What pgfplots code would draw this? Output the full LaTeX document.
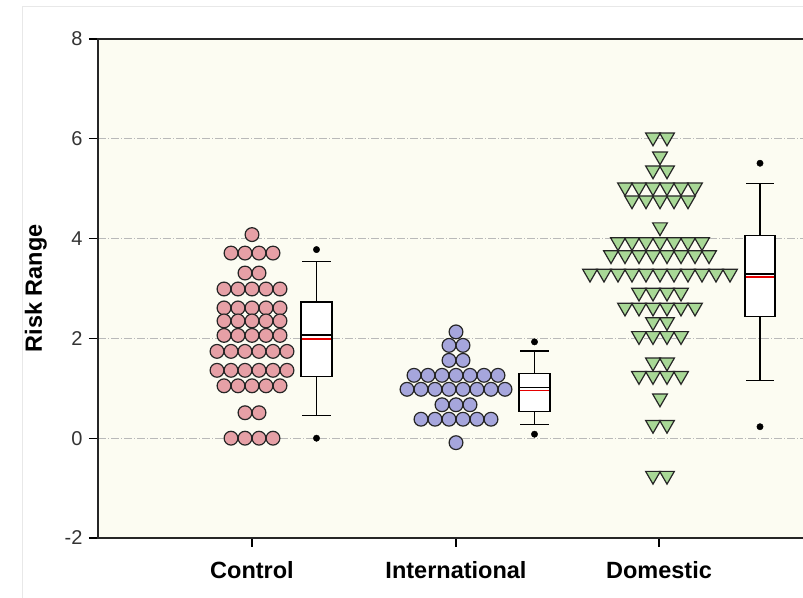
\documentclass[border=0pt]{standalone}
\usepackage{pgfplots}
\pgfplotsset{compat=1.18}
\usepackage{fontspec}
\setmainfont{Liberation Sans}
\definecolor{bgc}{RGB}{252,252,242}
\definecolor{ctrl}{RGB}{230,160,166}
\definecolor{intl}{RGB}{166,166,220}
\definecolor{dom}{RGB}{168,216,150}
\begin{document}
\begin{tikzpicture}
\begin{axis}[
  scale only axis, width=705pt, height=499pt,
  xmin=98, xmax=803, ymin=-2, ymax=8,
  axis line style={draw=none},
  axis background/.style={fill=bgc},
  xtick={252,456,659}, xticklabels={Control,International,Domestic},
  ytick={-2,0,2,4,6,8}, yticklabels={-2,0,2,4,6,8},
  xtick pos=left, ytick pos=left, tick align=outside,
  major tick length=9pt,
  tick style={black, line width=1.2pt},
  ymajorgrids, grid style={gray!55, line width=0.6pt, dash pattern=on 8pt off 2pt on 1pt off 2pt},
  yticklabel style={font=\fontsize{20}{20}\selectfont, text=black!80, xshift=-3pt},
  xticklabel style={font=\fontsize{23.5}{23.5}\selectfont\bfseries, yshift=-11pt},
  ylabel={Risk Range},
  ylabel style={font=\fontsize{23.5}{23.5}\selectfont\bfseries, at={(axis description cs:-0.088,0.5)}, anchor=center},
  unbounded coords=jump,
  clip=false,
]
% Control
\addplot[only marks, mark=*, mark size=6.9pt, mark options={fill=ctrl, draw=black!85, line width=1.2pt}] coordinates {
(252,4.08)
(231,3.71)(245,3.71)(259,3.71)(273,3.71)
(245,3.31)(259,3.31)
(224,2.99)(238,2.99)(252,2.99)(266,2.99)(280,2.99)
(224,2.61)(238,2.61)(252,2.61)(266,2.61)(280,2.61)
(224,2.35)(238,2.35)(252,2.35)(266,2.35)(280,2.35)
(224,2.06)(238,2.06)(252,2.06)(266,2.06)(280,2.06)
(217,1.74)(231,1.74)(245,1.74)(259,1.74)(273,1.74)(287,1.74)
(217,1.36)(231,1.36)(245,1.36)(259,1.36)(273,1.36)(287,1.36)
(224,1.05)(238,1.05)(252,1.05)(266,1.05)(280,1.05)
(245,0.51)(259,0.51)
(231,0.0)(245,0.0)(259,0.0)(273,0.0)
};
% International
\addplot[only marks, mark=*, mark size=6.9pt, mark options={fill=intl, draw=black!85, line width=1.2pt}] coordinates {
(456,2.13)
(449,1.86)(463,1.86)
(449,1.56)(463,1.56)
(414,1.26)(428,1.26)(442,1.26)(456,1.26)(470,1.26)(484,1.26)(498,1.26)
(407,0.98)(421,0.98)(435,0.98)(449,0.98)(463,0.98)(477,0.98)(491,0.98)(505,0.98)
(442,0.67)(456,0.67)(470,0.67)
(421,0.38)(435,0.38)(449,0.38)(463,0.38)(477,0.38)(491,0.38)
(456,-0.09)
};
% Domestic
\addplot[only marks, mark=triangle*, mark size=8.5pt, mark options={rotate=180, fill=dom, draw=black!85, line width=1.2pt}] coordinates {
(653,6.03)(667,6.03)
(660,5.65)
(653,5.37)(667,5.37)
(625,5.03)(639,5.03)(653,5.03)(667,5.03)(681,5.03)(695,5.03)
(632,4.77)(646,4.77)(660,4.77)(674,4.77)(688,4.77)
(660,4.23)
(618,3.93)(632,3.93)(646,3.93)(660,3.93)(674,3.93)(688,3.93)(702,3.93)
(611,3.67)(625,3.67)(639,3.67)(653,3.67)(667,3.67)(681,3.67)(695,3.67)(709,3.67)
(590,3.30)(604,3.30)(618,3.30)(632,3.30)(646,3.30)(660,3.30)(674,3.30)(688,3.30)(702,3.30)(716,3.30)(730,3.30)
(639,2.92)(653,2.92)(667,2.92)(681,2.92)
(625,2.62)(639,2.62)(653,2.62)(667,2.62)(681,2.62)(695,2.62)
(653,2.33)(667,2.33)
(639,2.05)(653,2.05)(667,2.05)(681,2.05)
(653,1.52)(667,1.52)
(639,1.25)(653,1.25)(667,1.25)(681,1.25)
(660,0.80)
(653,0.27)(667,0.27)
(653,-0.75)(667,-0.75)
};
% Box plots: Control (x 301-332)
\addplot[black, line width=1.3pt] coordinates {(316.5,0.46)(316.5,3.54) (nan,nan) (302,3.54)(331,3.54) (nan,nan) (302,0.46)(331,0.46)};
\addplot[black, fill=white, line width=1.3pt] coordinates {(301,1.23)(332,1.23)(332,2.73)(301,2.73)} --cycle;
\addplot[black, line width=1.3pt] coordinates {(301,2.07)(332,2.07)};
\addplot[red!90!black, line width=1.3pt] coordinates {(301.7,1.99)(331.3,1.99)};
\addplot[only marks, mark=*, mark size=3.2pt, black] coordinates {(316.5,3.78)(316.5,0.0)};
% International (x 519-550)
\addplot[black, line width=1.3pt] coordinates {(534.5,0.27)(534.5,1.75) (nan,nan) (520,1.75)(549,1.75) (nan,nan) (520,0.27)(549,0.27)};
\addplot[black, fill=white, line width=1.3pt] coordinates {(519,0.53)(550,0.53)(550,1.29)(519,1.29)} --cycle;
\addplot[black, line width=1.3pt] coordinates {(519,1.01)(550,1.01)};
\addplot[red!90!black, line width=1.3pt] coordinates {(519.7,0.96)(549.3,0.96)};
\addplot[only marks, mark=*, mark size=3.2pt, black] coordinates {(534.5,1.93)(534.5,0.08)};
% Domestic (x 745-775)
\addplot[black, line width=1.3pt] coordinates {(760,1.16)(760,5.11) (nan,nan) (746,5.11)(774,5.11) (nan,nan) (746,1.16)(774,1.16)};
\addplot[black, fill=white, line width=1.3pt] coordinates {(745,2.44)(775,2.44)(775,4.06)(745,4.06)} --cycle;
\addplot[black, line width=1.3pt] coordinates {(745,3.29)(775,3.29)};
\addplot[red!90!black, line width=1.3pt] coordinates {(745.7,3.23)(774.3,3.23)};
\addplot[only marks, mark=*, mark size=3.2pt, black] coordinates {(760,5.51)(760,0.23)};
\draw[black!85, line width=2pt] (rel axis cs:1,1) -- (rel axis cs:0,1) -- (rel axis cs:0,0) -- (rel axis cs:1,0);
\coordinate (TL) at (rel axis cs:0,1);
\coordinate (BR) at (rel axis cs:1,0);
\end{axis}
\draw[gray!18, line width=0.8pt] ([shift={(-76pt,33pt)}]TL) -- ([shift={(0pt,33pt)}]TL-|BR);
\draw[gray!18, line width=0.8pt] ([shift={(-76pt,33pt)}]TL) -- ([shift={(-76pt,-60pt)}]BR-|TL);
\pgfresetboundingbox
\path[use as bounding box] ([shift={(-98pt,39pt)}]TL) rectangle ([shift={(0pt,-60pt)}]BR);
\end{tikzpicture}
\end{document}
